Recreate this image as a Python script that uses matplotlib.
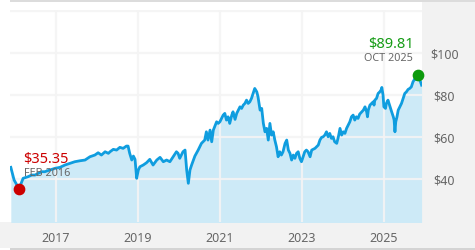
import matplotlib
matplotlib.use("Agg")
import matplotlib.pyplot as plt
from matplotlib.patches import Rectangle
import numpy as np

# price history (decimal year, price in $)
years = [
    2015.90, 2015.98, 2016.10, 2016.20, 2016.32, 2016.41, 2016.49, 2016.57, 2016.65, 2016.73,
    2016.85, 2016.98, 2017.10, 2017.22, 2017.34, 2017.46, 2017.59, 2017.71, 2017.83, 2017.95,
    2018.03, 2018.11, 2018.20, 2018.28, 2018.32, 2018.40, 2018.48, 2018.56, 2018.64, 2018.72,
    2018.76, 2018.80, 2018.85, 2018.89, 2018.93, 2018.97, 2019.01, 2019.05, 2019.13, 2019.21,
    2019.29, 2019.37, 2019.46, 2019.54, 2019.62, 2019.70, 2019.78, 2019.86, 2019.94, 2019.98,
    2020.02, 2020.10, 2020.15, 2020.19, 2020.23, 2020.27, 2020.31, 2020.39, 2020.47, 2020.55,
    2020.63, 2020.67, 2020.71, 2020.76, 2020.80, 2020.84, 2020.92, 2020.96, 2021.00, 2021.04,
    2021.08, 2021.12, 2021.16, 2021.20, 2021.24, 2021.29, 2021.32, 2021.37, 2021.41, 2021.45,
    2021.49, 2021.53, 2021.57, 2021.61, 2021.65, 2021.69, 2021.73, 2021.77, 2021.81, 2021.85,
    2021.90, 2021.93, 2021.98, 2022.02, 2022.06, 2022.10, 2022.14, 2022.18, 2022.22, 2022.26,
    2022.30, 2022.34, 2022.38, 2022.42, 2022.46, 2022.50, 2022.54, 2022.59, 2022.63, 2022.67,
    2022.71, 2022.75, 2022.79, 2022.83, 2022.87, 2022.91, 2022.95, 2022.99, 2023.03, 2023.07,
    2023.11, 2023.15, 2023.20, 2023.24, 2023.32, 2023.40, 2023.44, 2023.48, 2023.52, 2023.56,
    2023.60, 2023.64, 2023.68, 2023.72, 2023.76, 2023.80, 2023.85, 2023.89, 2023.93, 2023.97,
    2024.01, 2024.05, 2024.09, 2024.13, 2024.17, 2024.21, 2024.25, 2024.29, 2024.33, 2024.37,
    2024.41, 2024.46, 2024.50, 2024.54, 2024.58, 2024.60, 2024.62, 2024.66, 2024.70, 2024.74,
    2024.76, 2024.78, 2024.82, 2024.86, 2024.90, 2024.94, 2024.95, 2024.98, 2025.00, 2025.04,
    2025.06, 2025.10, 2025.15, 2025.19, 2025.23, 2025.25, 2025.27, 2025.29, 2025.32, 2025.35,
    2025.39, 2025.43, 2025.47, 2025.51, 2025.55, 2025.59, 2025.63, 2025.67, 2025.71, 2025.76,
    2025.80, 2025.84, 2025.88, 2025.92,
]
prices = [
    45.57, 39.52, 35.35, 40.33, 41.10, 41.90, 41.90, 42.71, 43.48, 43.48,
    44.29, 45.10, 45.57, 46.67, 47.48, 48.24, 48.71, 49.05, 50.62, 51.43,
    52.52, 51.43, 53.00, 52.24, 53.00, 54.14, 53.81, 55.10, 54.62, 55.71,
    55.71, 52.24, 49.05, 50.95, 49.38, 40.33, 44.29, 45.86, 46.67, 47.76,
    49.38, 46.67, 49.05, 50.33, 48.24, 49.05, 48.24, 50.62, 53.00, 52.24,
    49.86, 53.00, 53.81, 44.29, 37.95, 44.29, 46.67, 50.95, 53.81, 57.00,
    58.57, 62.52, 58.57, 63.33, 57.76, 63.33, 67.29, 66.52, 67.29, 68.90,
    70.48, 71.29, 68.10, 69.67, 66.52, 70.48, 72.05, 68.43, 71.29, 72.86,
    74.43, 73.67, 75.24, 76.05, 77.62, 76.05, 76.81, 78.43, 80.81, 83.19,
    81.57, 79.19, 72.86, 73.67, 66.52, 62.52, 64.14, 58.57, 66.52, 60.95,
    62.52, 58.57, 55.38, 50.62, 53.00, 51.43, 53.00, 57.00, 58.57, 53.81,
    52.24, 49.05, 51.43, 49.86, 52.24, 53.00, 49.86, 48.24, 50.62, 53.00,
    53.81, 53.00, 50.62, 53.81, 54.62, 56.19, 58.57, 59.86, 60.14, 60.95,
    62.52, 60.14, 61.76, 59.38, 60.14, 57.76, 57.00, 60.14, 64.14, 60.95,
    62.52, 61.76, 64.14, 65.71, 67.29, 69.67, 70.48, 68.10, 69.67, 68.90,
    70.95, 72.05, 72.86, 74.43, 72.05, 69.67, 72.86, 75.24, 76.05, 76.81,
    75.24, 77.62, 78.43, 80.81, 81.57, 82.71, 83.67, 80.00, 74.43, 73.67,
    76.05, 77.62, 74.43, 72.05, 69.67, 68.10, 62.52, 67.29, 69.67, 72.86,
    74.43, 76.05, 78.43, 80.81, 81.57, 82.71, 83.19, 83.95, 86.33, 87.95,
    87.48, 89.81, 87.14, 84.76,
]

low_year, low_price, low_label = 2016.10, 35.35, "FEB 2016"
high_year, high_price, high_label = 2025.84, 89.81, "OCT 2025"

year_ticks = [2017, 2019, 2021, 2023, 2025]
price_ticks = [40, 60, 80, 100, 120]
price_labels = ["$40", "$60", "$80", "$100", ""]

plt.rcParams['font.family'] = ['Noto Sans', 'DejaVu Sans']

W, H = 475, 250
fig = plt.figure(figsize=(W / 100, H / 100), dpi=100)
fig.patch.set_facecolor('white')

# grey frame: right column, bottom band, thin top/bottom rules
grey = '#f2f2f2'
fig.add_artist(Rectangle((422 / W, 2 / H), 53 / W, 246 / H, transform=fig.transFigure, color=grey, lw=0, zorder=0))
fig.add_artist(Rectangle((0, 2 / H), 422 / W, 26 / H, transform=fig.transFigure, color=grey, lw=0, zorder=0))
fig.add_artist(Rectangle((10 / W, 248 / H), 465 / W, 2 / H, transform=fig.transFigure, color='#dcdcdc', lw=0, zorder=1))
fig.add_artist(Rectangle((10 / W, 0), 465 / W, 2 / H, transform=fig.transFigure, color='#d4d4d4', lw=0, zorder=1))

ax = fig.add_axes([10 / W, 28 / H, 412 / W, 212 / H])
ax.set_facecolor('white')

x = np.array(years)
y = np.array(prices)
ax.fill_between(x, 0, y, color='#cdeaf7', lw=0, zorder=1)
for v in price_ticks:
    ax.axhline(v, color='#f4f4f4', lw=1.6, zorder=2, alpha=0.9)
for v in year_ticks:
    ax.axvline(v, color='#f4f4f4', lw=1.6, zorder=2, alpha=0.9)
ax.plot(x, y, color='#0f9ddf', lw=2, zorder=3, solid_joinstyle='round')

ax.scatter([low_year], [low_price], s=55, color='#cc0000', zorder=4, clip_on=False)
ax.scatter([high_year], [high_price], s=55, color='#0c9a0c', zorder=4, clip_on=False)

ax.annotate(f"${low_price:.2f}", (low_year, low_price), xytext=(4, 29), textcoords='offset pixels',
            ha='left', va='center', fontsize=10.5, color='#cc0000', zorder=5)
ax.annotate(low_label, (low_year, low_price), xytext=(5, 15), textcoords='offset pixels',
            ha='left', va='center', fontsize=7.8, color='#666666', zorder=5)
ax.annotate(f"${high_price:.2f}", (high_year, high_price), xytext=(-5, 30), textcoords='offset pixels',
            ha='right', va='center', fontsize=10.5, color='#169c16', zorder=5)
ax.annotate(high_label, (high_year, high_price), xytext=(-5, 16), textcoords='offset pixels',
            ha='right', va='center', fontsize=7.8, color='#666666', zorder=5)

ax.set_xlim(2015.88, 2025.93)
ax.set_ylim(19.5, 120.6)
ax.set_xticks(year_ticks)
ax.set_xticklabels([str(v) for v in year_ticks])
ax.set_yticks(price_ticks)
ax.set_yticklabels(price_labels, ha='center')
ax.yaxis.tick_right()
ax.tick_params(axis='both', length=0, labelsize=9, labelcolor='#666666')
ax.tick_params(axis='x', pad=7)
ax.tick_params(axis='y', pad=16)
for s in ax.spines.values():
    s.set_visible(False)

fig.savefig('out.png', dpi=100, facecolor=fig.get_facecolor())
